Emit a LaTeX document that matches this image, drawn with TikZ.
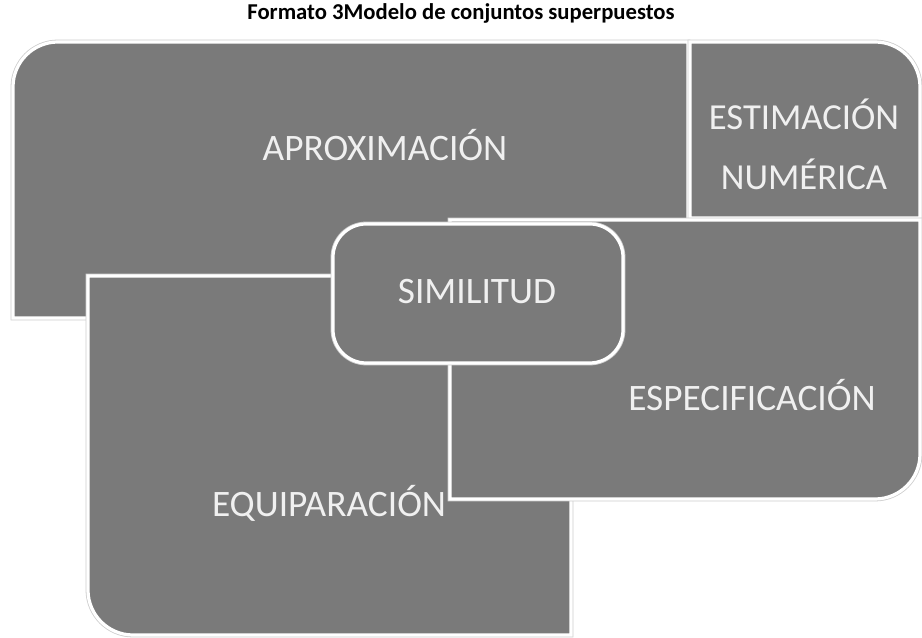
\documentclass[tikz,border=0pt]{standalone}
\usepackage{fontspec}
\setmainfont{Carlito}
\usepackage{tikz}
\usetikzlibrary{positioning, calc}
\usepackage{xcolor}
\definecolor{boxgray}{RGB}{122,122,122}
\definecolor{halo}{RGB}{205,205,205}
\definecolor{txt}{RGB}{240,240,240}

\begin{document}
\begin{tikzpicture}[x=0.75pt, y=0.75pt,
	blk/.style={fill=boxgray, draw=white, line width=2.4pt, preaction={draw=halo, line width=3.6pt}},
	lbl/.style={text=txt, font=\fontsize{28}{45}\selectfont, align=center}]
	\useasboundingbox (0,0) rectangle (922,638);
	\node[font=\bfseries\fontsize{17}{20}\selectfont] (title) at (461,625) {Formato 3Modelo de conjuntos superpuestos};
	% sets
	\path[blk] (13,320) -- (13,551) arc(180:90:45) -- (688,596) -- (688,320) -- cycle;
	\path[blk] (690,420) -- (690,596) -- (875,596) arc(90:0:45) -- (920,420) -- cycle;
	\path[blk] (88,362) -- (571,362) -- (571,3) -- (133,3) arc(270:180:45) -- cycle;
	\path[blk] (450,418) -- (920,418) -- (920,184) arc(0:-90:45) -- (450,139) -- cycle;
	\path[blk, rounded corners=25] (333,275) rectangle (623,414);
	% labels
	\node[lbl] (aprox) at (385,493) {APROXIMACIÓN};
	\node[lbl, font=\fontsize{27.5}{45}\selectfont] (estim) at (804,494) {ESTIMACIÓN\\NUMÉRICA};
	\node[lbl] (simil) at (477,346) {SIMILITUD};
	\node[lbl] (espec) at (752,243) {ESPECIFICACIÓN};
	\node[lbl] (equip) at (329,135) {EQUIPARACIÓN};
\end{tikzpicture}
\end{document}
